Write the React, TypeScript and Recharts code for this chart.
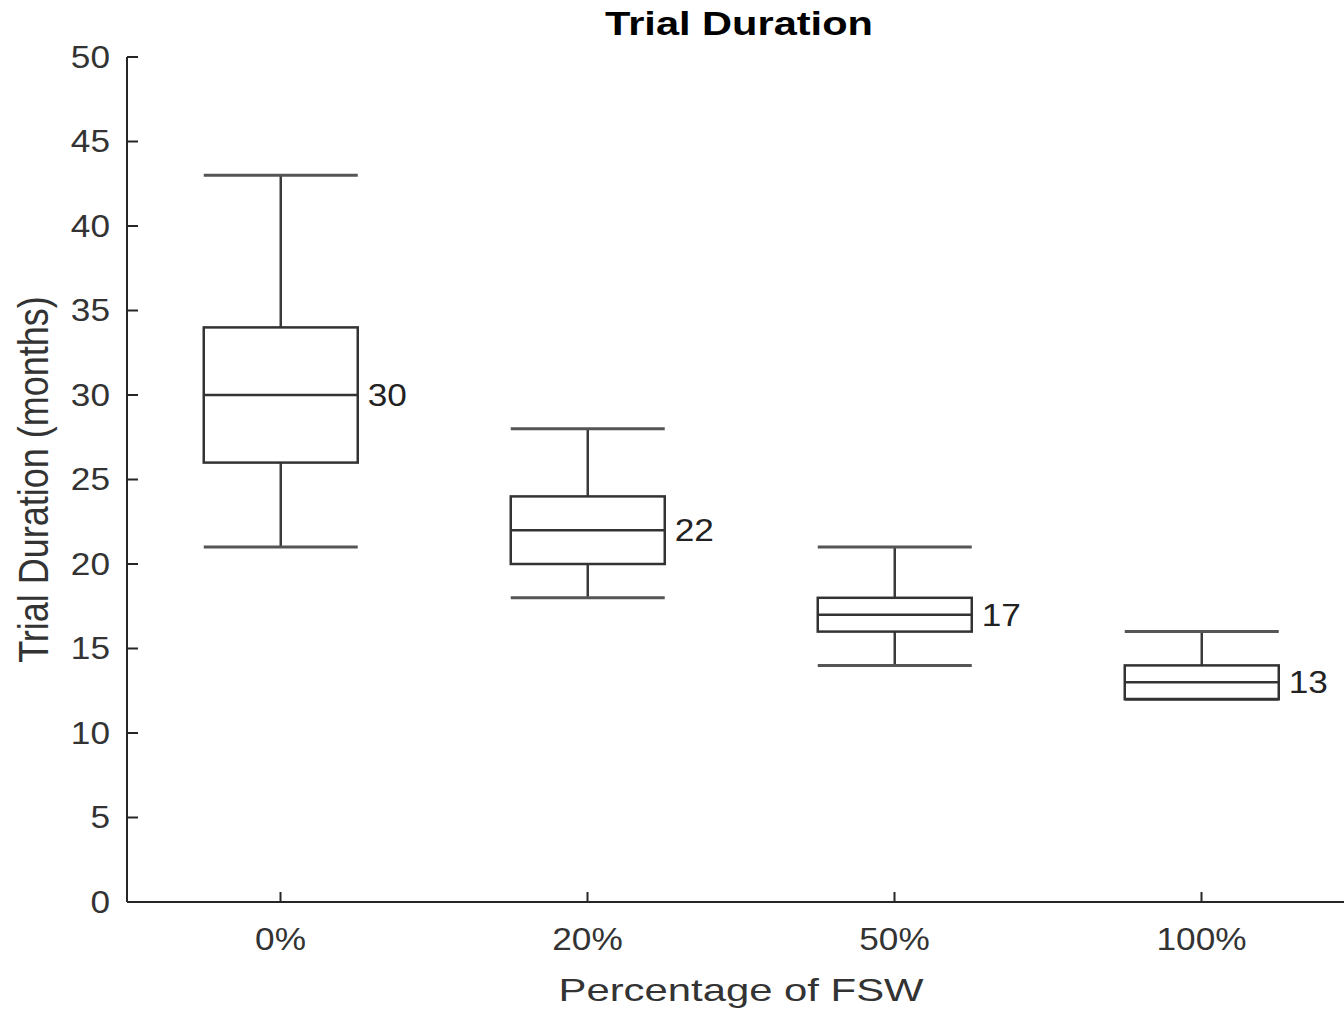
import React from 'react';
import { ComposedChart, Bar, XAxis, YAxis, Label, Customized } from 'recharts';

const CATEGORIES = ['0%', '20%', '50%', '100%'];
const MINS = [21, 18, 14, 12];
const Q1S = [26, 20, 16, 12];
const MEDIANS = [30, 22, 17, 13];
const Q3S = [34, 24, 18, 14];
const MAXS = [43, 28, 21, 16];
const Y_TICKS = [0, 5, 10, 15, 20, 25, 30, 35, 40, 45, 50];

const data = CATEGORIES.map((name, i) => ({
  name,
  min: MINS[i],
  q1: Q1S[i],
  median: MEDIANS[i],
  q3: Q3S[i],
  max: MAXS[i],
  range: [MINS[i], MAXS[i]],
}));

const FONT = '"Liberation Sans", Arial, Helvetica, sans-serif';
const INK = '#262626';

// box drawn inside the [min, max] bar the library places for us
function BoxShape(props: any) {
  const { x, y, width, height, payload } = props;
  const { min, q1, median, q3, max } = payload;
  const span = max - min || 1;
  const py = (v: number) => y + (height * (max - v)) / span;
  const cx = x + width / 2;
  return (
    <g>
      <line x1={cx} x2={cx} y1={py(max)} y2={py(q3)} stroke="#3a3a3a" strokeWidth={2.5} />
      <line x1={cx} x2={cx} y1={py(q1)} y2={py(min)} stroke="#3a3a3a" strokeWidth={2.5} />
      <line x1={x} x2={x + width} y1={py(max)} y2={py(max)} stroke="#555" strokeWidth={3} />
      <line x1={x} x2={x + width} y1={py(min)} y2={py(min)} stroke="#555" strokeWidth={3} />
      <rect x={x} y={py(q3)} width={width} height={py(q1) - py(q3)} fill="none" stroke="#333" strokeWidth={2.5} />
      <line x1={x} x2={x + width} y1={py(median)} y2={py(median)} stroke="#333" strokeWidth={2.5} />
      <text
        transform={`translate(${x + width + 10},${py(median)}) scale(1.1,1)`}
        dominantBaseline="central"
        fontSize={32}
        fontFamily={FONT}
        fill="#222"
      >
        {median}
      </text>
    </g>
  );
}

function XTick(props: any) {
  const { x, y, payload } = props;
  return (
    <text
      transform={`translate(${x},${y}) scale(1.1,1)`}
      textAnchor="middle"
      dominantBaseline="central"
      fontSize={32}
      fontFamily={FONT}
      fill="#333"
    >
      {payload.value}
    </text>
  );
}

function YTick(props: any) {
  const { x, y, payload } = props;
  return (
    <text
      transform={`translate(${x},${y}) scale(1.1,1)`}
      textAnchor="end"
      dominantBaseline="central"
      fontSize={32}
      fontFamily={FONT}
      fill="#333"
    >
      {payload.value}
    </text>
  );
}

function XTitle(props: any) {
  const { x, width, y } = props.viewBox;
  return (
    <text
      transform={`translate(${x + width / 2},${y + 88}) scale(1.35,1)`}
      textAnchor="middle"
      dominantBaseline="central"
      fontSize={31}
      fontFamily={FONT}
      fill="#333"
    >
      Percentage of FSW
    </text>
  );
}

function YTitle(props: any) {
  const { y, height } = props.viewBox;
  return (
    <text
      transform={`translate(33,${y + height / 2}) scale(1.2,1) rotate(-90)`}
      textAnchor="middle"
      dominantBaseline="central"
      fontSize={36}
      fontFamily={FONT}
      fill="#333"
    >
      Trial Duration (months)
    </text>
  );
}

function ChartTitle() {
  return (
    <text
      transform="translate(739,24) scale(1.26,1)"
      textAnchor="middle"
      dominantBaseline="central"
      fontSize={33}
      fontWeight="bold"
      fontFamily={FONT}
      fill="#000"
    >
      Trial Duration
    </text>
  );
}

export default function App() {
  return (
    <div style={{ position: 'absolute', left: 0, top: 0, width: 1344, height: 1009, overflow: 'hidden', background: '#fff' }}>
      <ComposedChart
        width={1360}
        height={1009}
        data={data}
        margin={{ top: 57, right: 5, bottom: 0, left: 0 }}
        barCategoryGap="25%"
      >
        <XAxis
          dataKey="name"
          height={107}
          axisLine={{ stroke: INK, strokeWidth: 2 }}
          tickLine={{ stroke: INK, strokeWidth: 2 }}
          tickSize={-10}
          tickMargin={47}
          tick={<XTick />}
        >
          <Label content={<XTitle />} />
        </XAxis>
        <YAxis
          type="number"
          domain={[0, 50]}
          ticks={Y_TICKS}
          width={127}
          axisLine={{ stroke: INK, strokeWidth: 2 }}
          tickLine={{ stroke: INK, strokeWidth: 2 }}
          tickSize={-11}
          tickMargin={28}
          tick={<YTick />}
          interval={0}
        >
          <Label content={<YTitle />} />
        </YAxis>
        <Bar dataKey="range" shape={<BoxShape />} isAnimationActive={false} />
        <Customized component={ChartTitle} />
      </ComposedChart>
    </div>
  );
}
